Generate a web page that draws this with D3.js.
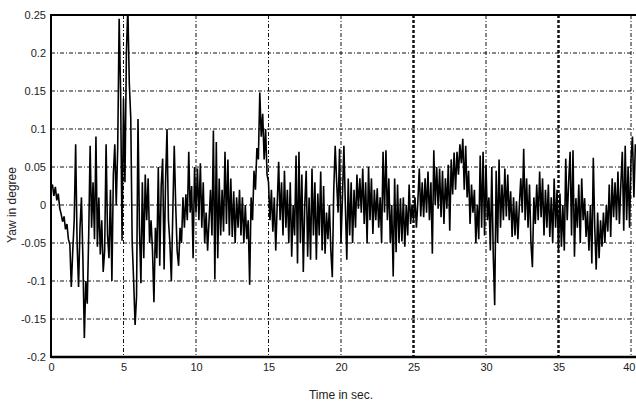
<!DOCTYPE html>
<html>
<head>
<meta charset="utf-8">
<script src="https://cdn.jsdelivr.net/npm/d3@7"></script>
<style>
  body { margin: 0; background: #fff; }
  text { font-family: "Liberation Sans Narrow", "Liberation Sans", Arial, sans-serif; fill: #222; }
</style>
</head>
<body>
<div id="chart"></div>
<script>
var sampleStep = 0.1;
var yaw = [
  0.022, 0.027, 0.012, 0.024, 0.006, 0.015, -0.004, -0.012, -0.022, -0.015,
  -0.032, -0.025, -0.045, -0.052, -0.108, -0.06, -0.02, 0.08, -0.05, -0.108,
  -0.03, 0.01, -0.07, -0.175, -0.1, -0.13, -0.04, 0.078, -0.03, 0.03,
  -0.045, 0.09, -0.055, 0.01, -0.065, -0.02, -0.088, -0.06, 0.08, -0.04,
  -0.07, 0.02, -0.1, 0.04, 0.08, 0.0, 0.075, 0.245, 0.15, -0.047,
  0.14, 0.03, 0.2, 0.26, 0.16, 0.115, -0.05, -0.1, -0.158, -0.12,
  0.113, -0.03, -0.103, 0.03, -0.07, 0.04, -0.02, 0.035, -0.05, -0.02,
  -0.06, -0.128, -0.03, -0.07, 0.05, -0.08, 0.025, 0.061, -0.085, 0.03,
  0.1, -0.02, -0.05, -0.1, -0.01, 0.078, 0.0, -0.06, -0.08, -0.03,
  -0.05, 0.01, -0.03, 0.014, -0.02, 0.07, -0.01, 0.025, -0.07, 0.05,
  -0.01, 0.048, -0.02, 0.055, -0.03, 0.03, -0.05, -0.01, -0.06, -0.02,
  0.02, -0.04, 0.098, -0.098, 0.083, -0.07, 0.035, -0.04, 0.02, -0.035,
  0.07, -0.025, 0.06, -0.04, 0.035, -0.042, 0.018, -0.05, 0.01, -0.03,
  0.02, -0.04, 0.01, -0.05, 0.0, -0.045, -0.02, -0.105, 0.01, -0.02,
  0.045, 0.02, 0.075, 0.06, 0.148, 0.09, 0.12, 0.06, 0.1, 0.04,
  0.03, -0.02, 0.02, -0.035, 0.01, -0.06, 0.0, 0.057, -0.02, 0.03,
  -0.04, 0.045, -0.03, 0.02, -0.05, 0.03, -0.068, 0.0, -0.04, 0.065,
  -0.077, 0.07, -0.05, 0.04, -0.088, 0.0, 0.045, -0.068, 0.01, -0.072,
  0.048, -0.04, 0.03, -0.072, 0.015, -0.04, 0.044, -0.06, 0.025, -0.064,
  -0.01, -0.045, 0.0, -0.06, -0.095, 0.02, 0.078, 0.03, -0.01, 0.074,
  -0.05, 0.01, 0.078, 0.0, -0.072, 0.035, -0.04, 0.03, -0.05, 0.02,
  -0.03, 0.04, -0.005, 0.035, -0.01, 0.048, -0.025, 0.03, -0.05, 0.05,
  -0.02, 0.035, -0.038, 0.02, -0.02, 0.022, -0.03, 0.01, -0.05, 0.07,
  -0.01, 0.072, -0.02, 0.035, -0.05, 0.0, -0.094, 0.035, -0.062, 0.027,
  -0.05, 0.009, -0.048, 0.01, -0.055, 0.0, -0.04, 0.027, -0.025, 0.0,
  -0.02, 0.01, -0.03, 0.005, 0.048, -0.015, 0.03, -0.016, 0.035, -0.01,
  0.044, -0.02, 0.03, -0.064, 0.072, 0.0, 0.05, -0.005, 0.048, -0.016,
  0.045, -0.025, 0.035, -0.005, 0.053, -0.034, 0.06, 0.014, 0.069, 0.02,
  0.07, 0.04, 0.08, 0.055, 0.087, 0.02, 0.078, 0.01, 0.045, -0.025,
  0.027, -0.01, 0.02, -0.05, 0.0, -0.045, 0.065, -0.03, 0.07, -0.04,
  0.053, -0.02, 0.01, -0.06, 0.05, -0.065, -0.132, 0.045, -0.05, 0.06,
  -0.03, 0.027, -0.02, 0.048, -0.015, 0.04, -0.02, 0.018, -0.042, 0.01,
  -0.04, 0.005, -0.045, 0.0, 0.035, -0.01, 0.074, -0.02, 0.035, -0.03,
  0.027, -0.05, -0.082, 0.01, -0.025, 0.027, -0.02, 0.044, -0.016, 0.035,
  -0.04, 0.02, -0.03, 0.027, -0.042, 0.01, -0.05, 0.035, -0.03, 0.02,
  -0.06, 0.015, -0.055, 0.0, -0.06, 0.061, -0.02, 0.03, 0.07, -0.04,
  0.072, -0.068, 0.009, -0.03, 0.027, -0.05, 0.035, -0.02, 0.009, -0.042,
  -0.008, -0.06, 0.0, -0.077, 0.062, -0.03, -0.085, -0.01, -0.07, -0.02,
  -0.055, -0.01, -0.05, 0.0, -0.035, 0.027, -0.042, 0.035, -0.016, 0.03,
  -0.02, 0.044, -0.025, 0.027, 0.07, -0.034, 0.078, -0.02, 0.05, -0.03,
  0.06, 0.09, 0.01, 0.08
];

var xTicks = [0, 5, 10, 15, 20, 25, 30, 35, 40];
var xTickLabels = ["0", "5", "10", "15", "20", "25", "30", "35", "40"];
var yTicks = [0.25, 0.2, 0.15, 0.1, 0.05, 0, -0.05, -0.1, -0.15, -0.2];
var yTickLabels = ["0.25", "0.2", "0.15", "0.1", "0.05", "0", "-0.05", "-0.1", "-0.15", "-0.2"];
var heavyGrid = [25, 35];   // these print darker in the scan

var svgWidth = 636;
var svgHeight = 405;
var margin = { top: 15, right: 0, bottom: 48, left: 51 };
var plotRight = 631;   // where t = 40 sits; the frame runs off the right edge

var svg = d3.select("#chart")
    .append("svg")
    .attr("width", svgWidth)
    .attr("height", svgHeight);

svg.append("rect")
    .attr("width", svgWidth)
    .attr("height", svgHeight)
    .attr("fill", "#fff");

var xScale = d3.scaleLinear()
    .domain([0, 40])
    .range([margin.left, plotRight]);

var yScale = d3.scaleLinear()
    .domain([-0.2, 0.25])
    .range([svgHeight - margin.bottom, margin.top]);

var plotBottom = yScale(-0.2);
var plotTop = yScale(0.25);

svg.append("clipPath")
    .attr("id", "plotClip")
    .append("rect")
    .attr("x", margin.left)
    .attr("y", plotTop)
    .attr("width", svgWidth - margin.left)
    .attr("height", plotBottom - plotTop);

// grid
var grid = svg.append("g");
grid.selectAll(".hgrid")
    .data(yTicks.filter(d => d > -0.2 && d < 0.25))
    .enter()
    .append("line")
    .attr("x1", margin.left)
    .attr("x2", svgWidth)
    .attr("y1", d => yScale(d))
    .attr("y2", d => yScale(d))
    .attr("stroke", "#111")
    .attr("stroke-width", 1)
    .attr("stroke-dasharray", "4,2,1,2");

grid.selectAll(".vgrid")
    .data(xTicks.filter(d => d > 0))
    .enter()
    .append("line")
    .attr("x1", d => xScale(d))
    .attr("x2", d => xScale(d))
    .attr("y1", plotTop)
    .attr("y2", plotBottom)
    .attr("stroke", "#111")
    .attr("stroke-width", d => heavyGrid.includes(d) ? 2.5 : 1)
    .attr("stroke-dasharray", d => heavyGrid.includes(d) ? "3,2" : "4,2,1,2");

// signal
var line = d3.line()
    .x((d, i) => xScale(i * sampleStep))
    .y(d => yScale(d));

svg.append("path")
    .datum(yaw)
    .attr("clip-path", "url(#plotClip)")
    .attr("d", line)
    .attr("fill", "none")
    .attr("stroke", "#000")
    .attr("stroke-width", 1.6)
    .attr("stroke-linejoin", "miter");

// frame (no right side visible)
var frame = svg.append("g").attr("stroke", "#000").attr("fill", "none");
frame.append("line").attr("x1", margin.left).attr("x2", svgWidth).attr("y1", plotTop).attr("y2", plotTop).attr("stroke-width", 2);
frame.append("line").attr("x1", margin.left).attr("x2", svgWidth).attr("y1", plotBottom).attr("y2", plotBottom).attr("stroke-width", 2.5);
frame.append("line").attr("x1", margin.left).attr("x2", margin.left).attr("y1", plotTop - 1).attr("y2", plotBottom + 1).attr("stroke-width", 2);

// axes labels
var yAxis = d3.axisLeft(yScale)
    .tickValues(yTicks)
    .tickSize(0)
    .tickPadding(5)
    .tickFormat((d, i) => yTickLabels[i]);

var yAxisG = svg.append("g")
    .attr("transform", `translate(${margin.left}, 0)`)
    .call(yAxis);
yAxisG.select(".domain").remove();
yAxisG.selectAll("text").style("font-size", "11px").attr("fill", "#222");

var xAxis = d3.axisBottom(xScale)
    .tickValues(xTicks)
    .tickSize(0)
    .tickPadding(6)
    .tickFormat((d, i) => xTickLabels[i]);

var xAxisG = svg.append("g")
    .attr("transform", `translate(0, ${plotBottom})`)
    .call(xAxis);
xAxisG.select(".domain").remove();
xAxisG.selectAll("text").style("font-size", "11px").attr("fill", "#222");
// last label would run off the edge
xAxisG.selectAll(".tick").filter(d => d === 40).select("text")
    .attr("text-anchor", "end")
    .attr("x", 4);

svg.append("text")
    .attr("x", 341)
    .attr("y", 399)
    .attr("text-anchor", "middle")
    .style("font-size", "12px")
    .text("Time in sec.");

svg.append("text")
    .attr("transform", "rotate(-90)")
    .attr("x", -205)
    .attr("y", 16)
    .attr("text-anchor", "middle")
    .style("font-size", "12px")
    .text("Yaw in degree");
</script>
</body>
</html>
